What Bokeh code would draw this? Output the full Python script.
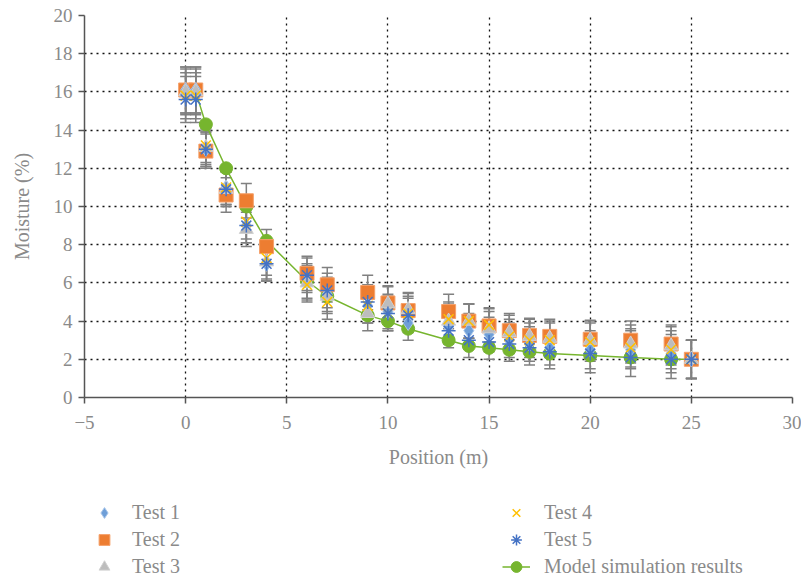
from bokeh.plotting import figure
from bokeh.models import (Range1d, ColumnDataSource, Whisker, TeeHead, Legend, LegendItem,
                          FixedTicker)
from bokeh.layouts import column
from bokeh.embed import file_html
from bokeh.resources import INLINE

# ---- data ----
pos = [0, 0.5, 1, 2, 3, 4, 6, 7, 9, 10, 11, 13, 14, 15, 16, 17, 18, 20, 22, 24, 25]
test1 = [16.1, 16.1, 13.0, 11.0, 9.0, 7.0, 6.1, 5.4, 4.8, 4.5, 3.9, 3.7, 3.5, 3.3, 3.0, 2.8, 2.6, 2.5, 2.5, 2.3, 2.0]
test2 = [16.1, 16.1, 12.9, 10.6, 10.3, 7.9, 6.5, 5.9, 5.5, 4.95, 4.55, 4.5, 4.0, 3.75, 3.5, 3.25, 3.2, 3.05, 3.0, 2.8, 2.0]
test3 = [16.0, 16.0, 13.1, 10.9, 8.8, 7.1, 6.0, 5.3, 4.4, 4.9, 4.6, 4.0, 4.0, 3.6, 3.4, 3.2, 3.1, 3.0, 2.8, 2.7, 2.0]
test4 = [15.8, 15.8, 13.2, 11.0, 9.2, 7.3, 5.9, 5.0, 4.8, 4.4, 4.4, 4.1, 4.0, 3.8, 3.2, 3.0, 3.0, 2.9, 2.6, 2.5, 2.0]
test5 = [15.6, 15.6, 13.0, 10.9, 9.0, 7.0, 6.4, 5.6, 5.0, 4.4, 4.3, 3.5, 3.0, 2.9, 2.8, 2.6, 2.4, 2.3, 2.1, 2.0, 2.0]
err = [1.2, 1.2, 0.9, 0.9, 0.9, 0.9, 0.9, 0.9, 0.9, 0.9, 0.9, 0.9, 0.9, 0.9, 0.9, 0.9, 0.9, 1.0, 1.0, 1.0, 1.0]

model_pos = [0.5, 1, 2, 3, 4, 6, 7, 9, 10, 11, 13, 14, 15, 16, 17, 18, 20, 22, 24, 25]
model = [16.0, 14.3, 12.0, 10.0, 8.2, 6.1, 5.3, 4.3, 4.0, 3.6, 3.0, 2.7, 2.6, 2.5, 2.4, 2.3, 2.2, 2.1, 2.0, 2.0]

series_labels = ["Test 1", "Test 2", "Test 3", "Test 4", "Test 5", "Model simulation results"]
x_ticks = [-5, 0, 5, 10, 15, 20, 25, 30]
y_ticks = [0, 2, 4, 6, 8, 10, 12, 14, 16, 18, 20]

FONT = "Liberation Serif"
TXT = "#8a8a8a"
AX = "#555555"
GREEN = "#76b52e"

STYLES = {
    "Test 1": dict(marker="diamond", size=15, fill_color="#6f9fd8", line_color="#a8c6ea", line_width=1),
    "Test 2": dict(marker="square", size=14, fill_color="#ed7d31", line_color="#f5a06a", line_width=1),
    "Test 3": dict(marker="triangle", size=14, fill_color="#bdbdbd", line_color="#d0d0d0", line_width=1),
    "Test 4": dict(marker="x", size=14, line_color="#ffc000", line_width=1.5),
    "Test 5": dict(marker="asterisk", size=14, line_color="#4472c4", line_width=1.5),
}

p = figure(width=801, height=470, output_backend="svg", toolbar_location=None,
           x_range=Range1d(-5, 30), y_range=Range1d(0, 20),
           min_border_left=84, min_border_right=9, min_border_top=15, min_border_bottom=71)
p.outline_line_color = None

p.xaxis.ticker = FixedTicker(ticks=x_ticks)
p.yaxis.ticker = FixedTicker(ticks=y_ticks)
p.xaxis.major_label_overrides = {-5: "\u22125"}
for ax in (p.xaxis, p.yaxis):
    ax.axis_line_color = AX
    ax.axis_line_width = 1.5
    ax.major_tick_line_color = AX
    ax.major_tick_line_width = 1.5
    ax.major_tick_out = 6
    ax.major_tick_in = 0
    ax.minor_tick_line_color = None
    ax.major_label_text_font = FONT
    ax.major_label_text_font_size = "19px"
    ax.major_label_text_color = TXT
    ax.axis_label_text_font = FONT
    ax.axis_label_text_font_size = "20px"
    ax.axis_label_text_color = TXT
    ax.axis_label_text_font_style = "normal"
p.xaxis.axis_label = "Position (m)"
p.yaxis.axis_label = "Moisture (%)"
p.xaxis.major_label_standoff = 12
p.yaxis.major_label_standoff = 6
p.xaxis.axis_label_standoff = 14
p.yaxis.axis_label_standoff = 18

for g in (p.xgrid, p.ygrid):
    g.grid_line_color = "#111111"
    g.grid_line_width = 1.3
    g.grid_line_dash = "2 4"

tests = {"Test 1": test1, "Test 2": test2, "Test 3": test3, "Test 4": test4, "Test 5": test5}
draw_order = ["Test 2", "Test 1", "Test 3", "Test 4", "Test 5"]

# error bars
for name in draw_order:
    vals = tests[name]
    src = ColumnDataSource(dict(x=pos, lo=[v - e for v, e in zip(vals, err)],
                                hi=[v + e for v, e in zip(vals, err)]))
    p.add_layout(Whisker(base="x", lower="lo", upper="hi", source=src, dimension="height",
                         line_color="#808080", line_width=1.5,
                         upper_head=TeeHead(size=11, line_color="#808080", line_width=1.5),
                         lower_head=TeeHead(size=11, line_color="#808080", line_width=1.5)))

# model
p.line(model_pos, model, line_color=GREEN, line_width=1.5)
p.scatter(model_pos, model, marker="circle", size=13, fill_color=GREEN, line_color=GREEN)

for name in draw_order:
    p.scatter(pos, tests[name], **STYLES[name])

# ---- legend figure (frames aligned with the main plot by the column layout) ----
lf = figure(width=801, height=110, output_backend="svg", toolbar_location=None,
            x_range=Range1d(0, 1), y_range=Range1d(0, 1),
            x_axis_type=None, y_axis_type=None,
            min_border_left=84, min_border_right=9, min_border_top=0, min_border_bottom=0)
lf.outline_line_color = None
lf.xgrid.visible = False
lf.ygrid.visible = False

# legend proxies: one point each, placed outside the visible range
OFF = [-10]
items = []
for name in series_labels[:5]:
    r = lf.scatter(x=OFF, y=OFF, **STYLES[name])
    items.append(LegendItem(label=name, renderers=[r]))
rl = lf.line(x=[-10, -9], y=[-10, -10], line_color=GREEN, line_width=1.5)
rc = lf.scatter(x=OFF, y=OFF, marker="circle", size=11, fill_color=GREEN, line_color=GREEN)
items.append(LegendItem(label=series_labels[5], renderers=[rl, rc]))

legend = Legend(items=items, location=(6, 0), orientation="vertical", nrows=3)
legend.border_line_color = None
legend.background_fill_alpha = 0
legend.padding = 0
legend.margin = 0
legend.spacing = 0
legend.glyph_width = 28
legend.glyph_height = 27
legend.label_height = 27
legend.label_width = 370
legend.label_standoff = 14
legend.label_text_font = FONT
legend.label_text_font_size = "20px"
legend.label_text_color = TXT
lf.add_layout(legend)

layout = column(p, lf, spacing=0)
open("out.html", "w").write(file_html(layout, INLINE))
